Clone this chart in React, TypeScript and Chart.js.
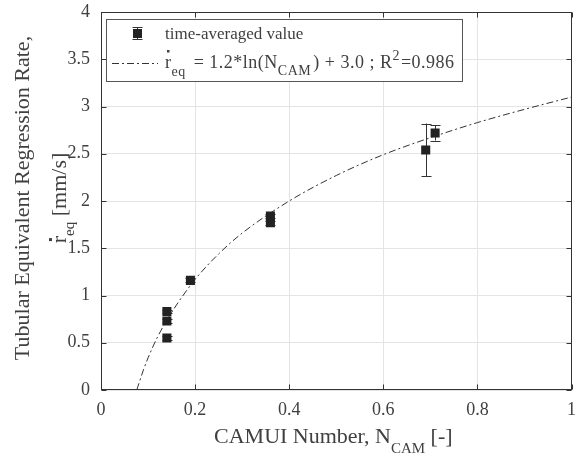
import React, { useEffect, useRef } from "react";
import { Chart, registerables } from "chart.js";
Chart.register(...registerables);

// measured data (CAMUI number vs tubular equivalent regression rate)
const nCam = [0.14, 0.14, 0.14, 0.19, 0.36, 0.36, 0.69, 0.71];
const rateEq = [0.55, 0.73, 0.83, 1.16, 1.77, 1.84, 2.54, 2.72];
const errLow = [0.53, 0.71, 0.81, 1.14, 1.75, 1.82, 2.26, 2.64];
const errHigh = [0.57, 0.75, 0.85, 1.18, 1.79, 1.86, 2.82, 2.8];

// fitted curve
const fitN = [0.076, 0.09, 0.1, 0.12, 0.15, 0.2, 0.25, 0.3, 0.4, 0.5, 0.6, 0.7, 0.8, 0.9, 1.0];
const fitRate = [0.0, 0.21, 0.34, 0.56, 0.82, 1.17, 1.44, 1.66, 2.0, 2.27, 2.49, 2.67, 2.83, 2.97, 3.1];

const xTicks = [0, 0.2, 0.4, 0.6, 0.8, 1];
const yTicks = [0, 0.5, 1, 1.5, 2, 2.5, 3, 3.5, 4];

const FAM = "'Liberation Serif', 'Times New Roman', serif";
const TXT = "#404040";
const AX = "#333333";

type Seg = { t: string; size: number; dy: number; gap?: number };

function richWidth(ctx: CanvasRenderingContext2D, segs: Seg[]) {
  let w = 0;
  for (const s of segs) {
    ctx.font = `${s.size}px ${FAM}`;
    w += ctx.measureText(s.t).width + (s.gap || 0);
  }
  return w;
}

function drawRich(ctx: CanvasRenderingContext2D, x: number, y: number, segs: Seg[]) {
  let cx = x;
  const pos: number[] = [];
  for (const s of segs) {
    ctx.font = `${s.size}px ${FAM}`;
    pos.push(cx);
    ctx.fillText(s.t, cx, y + s.dy);
    cx += ctx.measureText(s.t).width + (s.gap || 0);
  }
  return { end: cx, pos };
}

const decorPlugin = {
  id: "decor",
  beforeDatasetsDraw(chart: any) {
    const ctx = chart.ctx as CanvasRenderingContext2D;
    const xs = chart.scales.x;
    const ys = chart.scales.y;
    ctx.save();
    ctx.strokeStyle = "#333";
    ctx.lineWidth = 1;
    for (let i = 0; i < nCam.length; i++) {
      const px = Math.round(xs.getPixelForValue(nCam[i])) + 0.5;
      const y1 = ys.getPixelForValue(errLow[i]);
      const y2 = ys.getPixelForValue(errHigh[i]);
      ctx.beginPath();
      ctx.moveTo(px, y1);
      ctx.lineTo(px, y2);
      ctx.moveTo(px - 5, Math.round(y1) + 0.5);
      ctx.lineTo(px + 5, Math.round(y1) + 0.5);
      ctx.moveTo(px - 5, Math.round(y2) + 0.5);
      ctx.lineTo(px + 5, Math.round(y2) + 0.5);
      ctx.stroke();
    }
    ctx.restore();
  },
  afterDraw(chart: any) {
    const ctx = chart.ctx as CanvasRenderingContext2D;
    const a = chart.chartArea;
    const xs = chart.scales.x;
    const ys = chart.scales.y;
    ctx.save();
    // axes box
    ctx.strokeStyle = AX;
    ctx.lineWidth = 1;
    const L = Math.round(a.left) + 0.5;
    const R = Math.round(a.right) - 0.5;
    const T = Math.round(a.top) + 0.5;
    const B = Math.round(a.bottom) - 0.5;
    ctx.strokeRect(L, T, R - L, B - T);
    // inward ticks
    ctx.beginPath();
    for (const v of xTicks) {
      const px = Math.round(xs.getPixelForValue(v)) + 0.5;
      ctx.moveTo(px, B);
      ctx.lineTo(px, B - 5);
      ctx.moveTo(px, T);
      ctx.lineTo(px, T + 5);
    }
    for (const v of yTicks) {
      const py = Math.round(ys.getPixelForValue(v)) + 0.5;
      ctx.moveTo(L, py);
      ctx.lineTo(L + 5, py);
      ctx.moveTo(R, py);
      ctx.lineTo(R - 5, py);
    }
    ctx.stroke();

    // legend
    const line2: Seg[] = [
      { t: "r", size: 18, dy: 0 },
      { t: "eq", size: 14, dy: 8, gap: 3 },
      { t: " = 1.2*ln(N", size: 18, dy: 0 },
      { t: "CAM", size: 14, dy: 7, gap: 2 },
      { t: ") + 3.0 ; R", size: 18, dy: 0 },
      { t: "2", size: 14, dy: -8, gap: 1 },
      { t: "=0.986", size: 18, dy: 0 },
    ];
    const tx = 165;
    const lx = 106.5, ly = 19.5;
    const lw = 356;
    const lh = 62;
    ctx.fillStyle = "#ffffff";
    ctx.fillRect(lx, ly, lw, lh);
    ctx.strokeStyle = "#555";
    ctx.strokeRect(lx, ly, lw, lh);
    // marker sample
    ctx.strokeStyle = "#333";
    ctx.beginPath();
    ctx.moveTo(137.5, 27);
    ctx.lineTo(137.5, 40);
    ctx.moveTo(132.5, 27.5);
    ctx.lineTo(142.5, 27.5);
    ctx.moveTo(132.5, 39.5);
    ctx.lineTo(142.5, 39.5);
    ctx.stroke();
    ctx.fillStyle = "#222";
    ctx.fillRect(133, 29, 9, 9);
    // line sample
    ctx.setLineDash([7, 3, 2, 3]);
    ctx.beginPath();
    ctx.moveTo(112, 63.5);
    ctx.lineTo(158, 63.5);
    ctx.stroke();
    ctx.setLineDash([]);
    ctx.fillStyle = TXT;
    ctx.textBaseline = "alphabetic";
    ctx.textAlign = "left";
    ctx.font = `17px ${FAM}`;
    ctx.fillText("time-averaged value", tx, 39);
    (ctx as any).letterSpacing = "0.5px";
    const r2 = drawRich(ctx, tx, 68, line2);
    (ctx as any).letterSpacing = "0px";
    ctx.font = `18px ${FAM}`;
    const rw = ctx.measureText("r").width;
    ctx.fillRect(r2.pos[0] + rw / 2 - 1, 50, 2.5, 2.5);

    // x title
    const xt: Seg[] = [
      { t: "CAMUI Number, N", size: 22, dy: 0 },
      { t: "CAM", size: 15, dy: 10 },
      { t: " [-]", size: 22, dy: 0 },
    ];
    const xw = richWidth(ctx, xt);
    const xc = (a.left + a.right) / 2;
    drawRich(ctx, xc - xw / 2 - 3, 443, xt);

    // y title (rotated)
    const cy = (a.top + a.bottom) / 2 - 3;
    const y1 = "Tubular Equivalent Regression Rate,";
    const yt2: Seg[] = [
      { t: "r", size: 22, dy: 0 },
      { t: "eq", size: 15, dy: 8 },
      { t: " [mm/s]", size: 22, dy: 0 },
    ];
    ctx.save();
    ctx.translate(29, cy);
    ctx.rotate(-Math.PI / 2);
    ctx.font = `22px ${FAM}`;
    const w1 = ctx.measureText(y1).width;
    ctx.fillText(y1, -w1 / 2, 0);
    ctx.restore();
    ctx.save();
    ctx.translate(66, cy);
    ctx.rotate(-Math.PI / 2);
    const wy2 = richWidth(ctx, yt2);
    const ry = drawRich(ctx, -wy2 / 2, 0, yt2);
    ctx.font = `22px ${FAM}`;
    const rw2 = ctx.measureText("r").width;
    ctx.fillRect(ry.pos[0] + rw2 / 2 - 1.5, -17, 3, 3);
    ctx.restore();

    ctx.restore();
  },
};

const fmt = (v: any) => String(Number(Number(v).toFixed(2)));

export default function App() {
  const ref = useRef<HTMLCanvasElement>(null);
  useEffect(() => {
    document.body.style.margin = "0";
    const canvas = ref.current!;
    const chart = new Chart(canvas, {
      type: "scatter",
      data: {
        datasets: [
          {
            label: "time-averaged value",
            data: nCam.map((x, i) => ({ x, y: rateEq[i] })),
            pointStyle: "rect",
            pointRadius: 6.4,
            pointHoverRadius: 6.4,
            backgroundColor: "#222",
            borderColor: "#222",
            borderWidth: 0,
            order: 0,
          },
          {
            label: "fit",
            data: fitN.map((x, i) => ({ x, y: fitRate[i] })),
            showLine: true,
            borderColor: "#333",
            borderWidth: 1,
            borderDash: [7, 3, 2, 3],
            pointRadius: 0,
            pointHoverRadius: 0,
            fill: false,
            cubicInterpolationMode: "monotone",
            order: 1,
          } as any,
        ],
      },
      options: {
        animation: false,
        responsive: false,
        events: [],
        layout: { padding: { left: 0, top: 12, right: 2, bottom: 0 } },
        plugins: { legend: { display: false }, tooltip: { enabled: false } },
        scales: {
          x: {
            type: "linear",
            min: 0,
            max: 1,
            afterBuildTicks: (s: any) => {
              s.ticks = xTicks.map((v) => ({ value: v }));
            },
            ticks: {
              font: { family: FAM, size: 18 },
              color: TXT,
              padding: 9,
              maxRotation: 0,
              callback: fmt,
            },
            grid: { color: "#e4e4e4", drawTicks: false },
            border: { display: false },
            afterFit: (s: any) => {
              s.height = 64;
              s.paddingLeft = 0;
              s.paddingRight = 0;
            },
          },
          y: {
            type: "linear",
            min: 0,
            max: 4,
            afterBuildTicks: (s: any) => {
              s.ticks = yTicks.map((v) => ({ value: v }));
            },
            ticks: {
              font: { family: FAM, size: 18 },
              color: TXT,
              padding: 11,
              callback: fmt,
            },
            grid: { color: "#e4e4e4", drawTicks: false },
            border: { display: false },
            afterFit: (s: any) => {
              s.width = 101;
              s.paddingTop = 0;
              s.paddingBottom = 0;
            },
          },
        },
      },
      plugins: [decorPlugin],
    });
    return () => chart.destroy();
  }, []);
  return (
    <div style={{ position: "absolute", left: 0, top: 0, width: 578, height: 454 }}>
      <canvas ref={ref} width={578} height={454} style={{ display: "block" }} />
    </div>
  );
}
